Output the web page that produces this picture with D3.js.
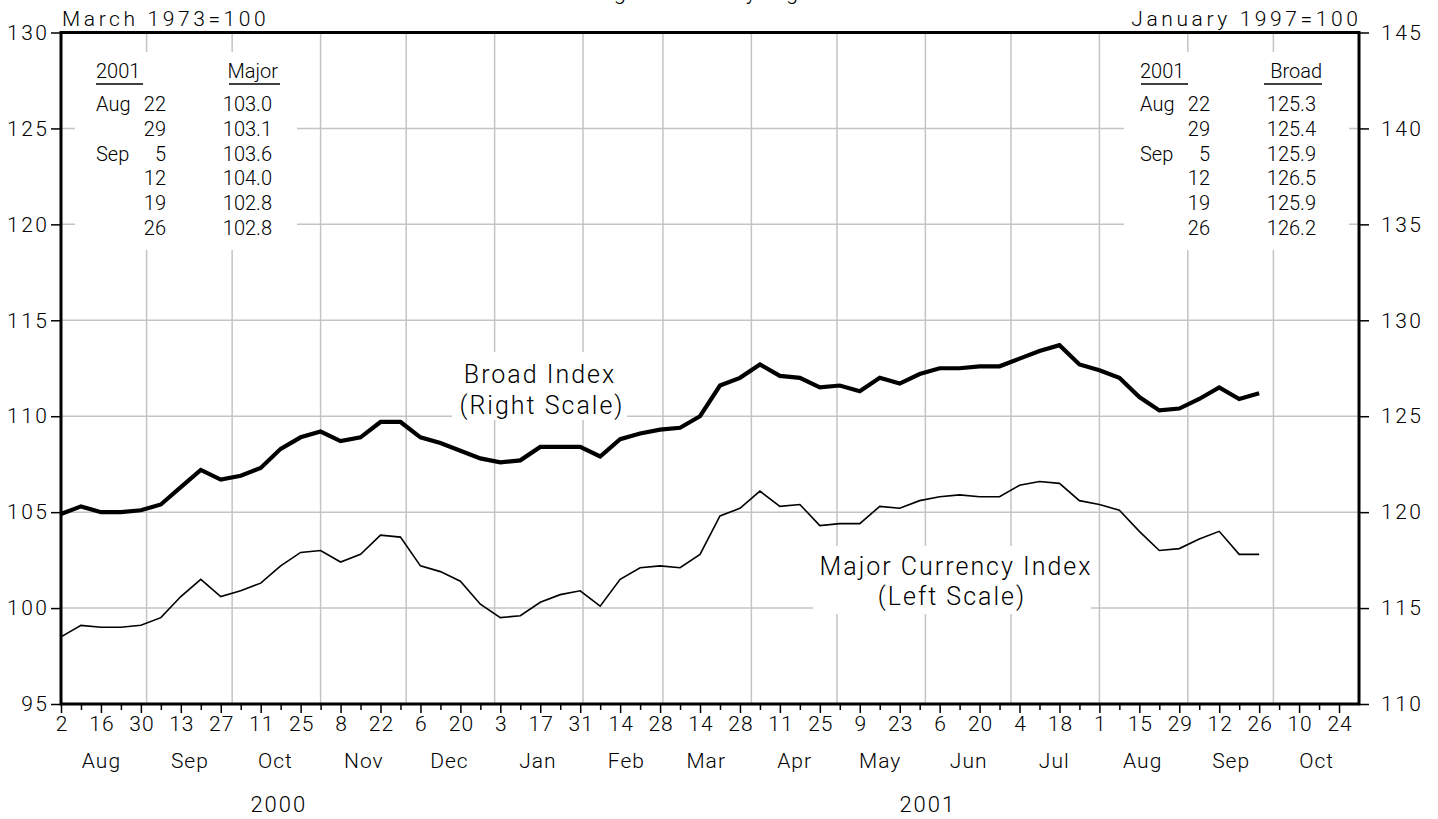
<!DOCTYPE html>
<html><head><meta charset="utf-8">
<script src="https://cdn.jsdelivr.net/npm/d3@7"></script>
<style>
body{margin:0;background:#fff}
svg{display:block}
text{font-family:Roboto,"DejaVu Sans",sans-serif;font-weight:300;fill:#000}
</style>
</head><body>
<svg id="c" width="1438" height="819"></svg>
<script>
// ---------- data ----------
const firstWeek = "2000-08-02";            // first weekly observation (Wednesday)
const majorValues = [98.5, 99.1, 99.0, 99.0, 99.1, 99.5, 100.6, 101.5, 100.6, 100.9,
  101.3, 102.2, 102.9, 103.0, 102.4, 102.8, 103.8, 103.7, 102.2, 101.9,
  101.4, 100.2, 99.5, 99.6, 100.3, 100.7, 100.9, 100.1, 101.5, 102.1,
  102.2, 102.1, 102.8, 104.8, 105.2, 106.1, 105.3, 105.4, 104.3, 104.4,
  104.4, 105.3, 105.2, 105.6, 105.8, 105.9, 105.8, 105.8, 106.4, 106.6,
  106.5, 105.6, 105.4, 105.1, 104.0, 103.0, 103.1, 103.6, 104.0, 102.8, 102.8];
const broadValues = [119.9, 120.3, 120.0, 120.0, 120.1, 120.4, 121.3, 122.2, 121.7, 121.9,
  122.3, 123.3, 123.9, 124.2, 123.7, 123.9, 124.7, 124.7, 123.9, 123.6,
  123.2, 122.8, 122.6, 122.7, 123.4, 123.4, 123.4, 122.9, 123.8, 124.1,
  124.3, 124.4, 125.0, 126.6, 127.0, 127.7, 127.1, 127.0, 126.5, 126.6,
  126.3, 127.0, 126.7, 127.2, 127.5, 127.5, 127.6, 127.6, 128.0, 128.4,
  128.7, 127.7, 127.4, 127.0, 126.0, 125.3, 125.4, 125.9, 126.5, 125.9, 126.2];
const leftTicks = [95, 100, 105, 110, 115, 120, 125, 130];
const rightTicks = [110, 115, 120, 125, 130, 135, 140, 145];
const xTickLabels = ["2","16","30","13","27","11","25","8","22","6","20","3","17","31","14","28",
  "14","28","11","25","9","23","6","20","4","18","1","15","29","12","26","10","24"];
const monthLabels = ["Aug","Sep","Oct","Nov","Dec","Jan","Feb","Mar","Apr","May","Jun","Jul","Aug","Sep","Oct"];
const yearLabels = ["2000","2001"];
const tableMonths = ["Aug","","Sep","","",""];
const tableDays = ["22","29","5","12","19","26"];
const tableMajor = ["103.0","103.1","103.6","104.0","102.8","102.8"];
const tableBroad = ["125.3","125.4","125.9","126.5","125.9","126.2"];
const leftUnit = "March 1973=100";
const rightUnit = "January 1997=100";
const subtitle = "Averages of daily figures";

// ---------- layout ----------
const svg = d3.select("#c");
const P = {l:61, r:1359, t:32.5, b:704};
const t0 = new Date(firstWeek + "T00:00:00Z");
const tEnd = new Date(Date.UTC(2001, 9, 31));
const x = d3.scaleUtc().domain([t0, tEnd]).range([P.l, P.r]);
const yL = d3.scaleLinear().domain([95, 130]).range([P.b, P.t]);
const yR = d3.scaleLinear().domain([110, 145]).range([P.b, P.t]);
const grid = "#c4c4c4";

const weekDate = i => d3.utcDay.offset(t0, 7 * i);

// title (cut off at top edge in the reference, only descenders visible)
svg.append("text").attr("x", 700).attr("y", -1).attr("text-anchor", "middle")
  .style("font-size", "22px").style("letter-spacing", "3px").text(subtitle);

// gridlines
const monthStarts = d3.utcMonth.range(d3.utcMonth.ceil(d3.utcDay.offset(t0, 1)), tEnd);
svg.append("g").selectAll("line").data(monthStarts).join("line")
  .attr("x1", d => x(d)).attr("x2", d => x(d)).attr("y1", P.t).attr("y2", P.b)
  .attr("stroke", grid).attr("stroke-width", 1.5);
svg.append("g").selectAll("line").data(leftTicks.slice(1, -1)).join("line")
  .attr("x1", P.l).attr("x2", P.r).attr("y1", d => yL(d)).attr("y2", d => yL(d))
  .attr("stroke", grid).attr("stroke-width", 1.5);

// white boxes behind annotations
const boxes = [[75, 52, 222, 198], [1124, 52, 225, 198], [452, 352, 175, 68], [813, 546, 278, 68]];
svg.append("g").selectAll("rect").data(boxes).join("rect")
  .attr("x", d => d[0]).attr("y", d => d[1]).attr("width", d => d[2]).attr("height", d => d[3])
  .attr("fill", "#fff");

// series
const major = majorValues.map((v, i) => ({date: weekDate(i), v}));
const broad = broadValues.map((v, i) => ({date: weekDate(i), v}));
svg.append("path").datum(major)
  .attr("d", d3.line().x(d => x(d.date)).y(d => yL(d.v)))
  .attr("fill", "none").attr("stroke", "#000").attr("stroke-width", 1.6);
svg.append("path").datum(broad)
  .attr("d", d3.line().x(d => x(d.date)).y(d => yR(d.v)))
  .attr("fill", "none").attr("stroke", "#000").attr("stroke-width", 4.2);

// axes
const fs = 21;
const axL = svg.append("g").attr("transform", `translate(${P.l},0)`)
  .call(d3.axisLeft(yL).tickValues(leftTicks).tickSize(10).tickPadding(4).tickFormat(d3.format("d")));
const axR = svg.append("g").attr("transform", `translate(${P.r},0)`)
  .call(d3.axisRight(yR).tickValues(rightTicks).tickSize(10).tickPadding(12).tickFormat(d3.format("d")));
const allWeeks = d3.range(0, 65).map(weekDate);
const majorWeeks = allWeeks.filter((d, i) => i % 2 === 0);
const minorWeeks = allWeeks.filter((d, i) => i % 2 === 1);
const axB = svg.append("g").attr("transform", `translate(0,${P.b})`)
  .call(d3.axisBottom(x).tickValues(majorWeeks).tickSize(9).tickFormat((d, i) => xTickLabels[i]));
const axB2 = svg.append("g").attr("transform", `translate(0,${P.b})`)
  .call(d3.axisBottom(x).tickValues(minorWeeks).tickSize(6).tickFormat(""));
[axL, axR, axB, axB2].forEach(a => {
  a.select(".domain").remove();
  a.selectAll("line").attr("stroke", "#000").attr("stroke-width", 1.5);
  a.selectAll("text").style("font-family", "Roboto, sans-serif").style("font-weight", 300)
    .style("font-size", fs + "px").attr("fill", "#000");
});
axL.selectAll("text").style("letter-spacing", "2.5px").attr("dx", 2.5);
axR.selectAll("text").style("letter-spacing", "2.5px");
axB.selectAll("text").attr("y", 27).attr("dy", 0).style("letter-spacing", "1px").attr("dx", 0.5);

// frame
svg.append("rect").attr("x", P.l).attr("y", P.t).attr("width", P.r - P.l).attr("height", P.b - P.t)
  .attr("fill", "none").attr("stroke", "#000").attr("stroke-width", 3);

// month + year labels
const monthCentres = d3.utcMonth.range(d3.utcMonth.floor(t0), tEnd).map(m => d3.utcDay.offset(m, 15));
svg.append("g").selectAll("text").data(monthCentres).join("text")
  .attr("x", d => x(d)).attr("y", 768).attr("text-anchor", "middle").attr("dx", 0.5)
  .style("font-size", fs + "px").style("letter-spacing", "1px").text((d, i) => monthLabels[i]);
const yearSpans = [[t0, new Date(Date.UTC(2001, 0, 1))], [new Date(Date.UTC(2001, 0, 1)), tEnd]];
svg.append("g").selectAll("text").data(yearSpans).join("text")
  .attr("x", d => (x(d[0]) + x(d[1])) / 2).attr("y", 812).attr("text-anchor", "middle").attr("dx", 1)
  .style("font-size", "22px").style("letter-spacing", "2px").text((d, i) => yearLabels[i]);

// unit labels
svg.append("text").attr("x", 62).attr("y", 26).style("font-size", fs + "px")
  .style("letter-spacing", "3.6px").text(leftUnit);
svg.append("text").attr("x", 1358).attr("y", 26).attr("dx", 3.6).attr("text-anchor", "end").style("font-size", fs + "px")
  .style("letter-spacing", "3.6px").text(rightUnit);

// tables
function table(xMonth, xDayR, xValR, header, vals, hdrX0, hdrX1, valHdrX0, valHdrX1) {
  const g = svg.append("g").style("font-size", "20px");
  g.append("text").attr("x", xMonth).attr("y", 78).text("2001");
  g.append("text").attr("x", xValR + 6).attr("y", 78).attr("text-anchor", "end").text(header);
  g.append("line").attr("x1", hdrX0).attr("x2", hdrX1).attr("y1", 84).attr("y2", 84).attr("stroke", "#000").attr("stroke-width", 1.5);
  g.append("line").attr("x1", valHdrX0).attr("x2", valHdrX1).attr("y1", 84).attr("y2", 84).attr("stroke", "#000").attr("stroke-width", 1.5);
  const rows = d3.range(vals.length);
  g.selectAll(".m").data(rows).join("text").attr("x", xMonth).attr("y", i => 111 + 24.8 * i).text(i => tableMonths[i]);
  g.selectAll(".d").data(rows).join("text").attr("x", xDayR).attr("y", i => 111 + 24.8 * i).attr("text-anchor", "end").text(i => tableDays[i]);
  g.selectAll(".v").data(rows).join("text").attr("x", xValR).attr("y", i => 111 + 24.8 * i).attr("text-anchor", "end").text(i => vals[i]);
}
table(96, 166, 272, "Major", tableMajor, 96, 143, 229, 280);
table(1140, 1210, 1316, "Broad", tableBroad, 1141, 1188, 1264, 1322);

// series labels
const lab = svg.append("g").style("font-size", "25px").style("letter-spacing", "2px")
  .attr("text-anchor", "middle");
lab.append("text").attr("x", 539).attr("y", 383).attr("dx", 1).text("Broad Index");
lab.append("text").attr("x", 541).attr("y", 414).attr("dx", 1).text("(Right Scale)");
lab.append("text").attr("x", 955).attr("y", 575).attr("dx", 1).text("Major Currency Index");
lab.append("text").attr("x", 951).attr("y", 605).attr("dx", 1).text("(Left Scale)");
</script>
</body></html>
